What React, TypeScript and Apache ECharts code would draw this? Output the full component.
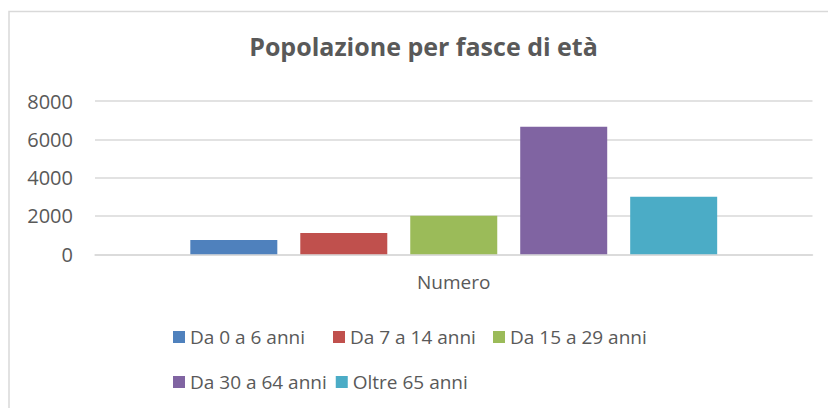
import React, { useEffect, useRef } from "react";
import * as echarts from "echarts";

const categories = ["Numero"];
const seriesNames = [
  "Da 0 a 6 anni",
  "Da 7 a 14 anni",
  "Da 15 a 29 anni",
  "Da 30 a 64 anni",
  "Oltre 65 anni",
];
const seriesValues = [[750], [1110], [2010], [6650], [3000]];
const seriesColors = ["#4F81BD", "#C0504D", "#9BBB59", "#8064A2", "#4BACC6"];
const yTicks = { min: 0, max: 8000, interval: 2000 };
const titleText = "Popolazione per fasce di età";

const FONT = "'Open Sans', 'Noto Sans', sans-serif";
const TXT = "#595959";

export default function App() {
  const ref = useRef<HTMLDivElement>(null);
  useEffect(() => {
    document.body.style.margin = "0";
    const chart = echarts.init(ref.current!, null, { renderer: "svg" });
    const legendText = {
      color: TXT,
      fontSize: 19,
      fontFamily: FONT,
      width: 134,
      lineHeight: 24,
      overflow: "none",
    };
    chart.setOption({
      animation: false,
      backgroundColor: "#ffffff",
      graphic: [
        {
          type: "rect",
          shape: { x: 9, y: 11.5, width: 840, height: 430 },
          style: { fill: "none", stroke: "#d9d9d9", lineWidth: 1.5 },
          silent: true,
        },
        {
          type: "text",
          x: 423.5,
          y: 46,
          style: {
            text: titleText,
            align: "center",
            verticalAlign: "middle",
            fill: TXT,
            font: `bold 25px ${FONT}`,
          },
        },
      ],
      grid: { left: 95, right: 15.5, top: 101, bottom: 153.7 },
      legend: [
        {
          data: seriesNames.slice(0, 3),
          left: 173,
          top: 325,
          padding: 0,
          orient: "horizontal",
          itemWidth: 12,
          itemHeight: 12,
          itemGap: 9,
          icon: "rect",
          textStyle: legendText,
        },
        {
          data: seriesNames.slice(3),
          left: 173,
          top: 370,
          padding: 0,
          orient: "horizontal",
          itemWidth: 12,
          itemHeight: 12,
          itemGap: 9,
          icon: "rect",
          textStyle: legendText,
        },
      ],
      xAxis: {
        type: "category",
        data: categories,
        axisLine: { show: true, lineStyle: { color: "#d9d9d9", width: 1.5 } },
        axisTick: { show: false },
        axisLabel: {
          color: TXT,
          fontSize: 19,
          fontFamily: FONT,
          margin: 18,
        },
      },
      yAxis: {
        type: "value",
        min: yTicks.min,
        max: yTicks.max,
        interval: yTicks.interval,
        axisLine: { show: false },
        axisTick: { show: false },
        splitLine: { lineStyle: { color: "#d9d9d9", width: 1.5 } },
        axisLabel: {
          color: TXT,
          fontSize: 20,
          fontFamily: FONT,
          margin: 22,
          formatter: (v: number) => String(v),
        },
      },
      series: seriesNames.map((name, i) => ({
        name,
        type: "bar",
        data: seriesValues[i],
        barWidth: 87,
        barGap: "26.4%",
        itemStyle: { color: seriesColors[i] },
      })),
    });
    return () => chart.dispose();
  }, []);
  return (
    <div
      ref={ref}
      style={{ position: "fixed", left: 0, top: 0, width: 828, height: 408 }}
    />
  );
}
